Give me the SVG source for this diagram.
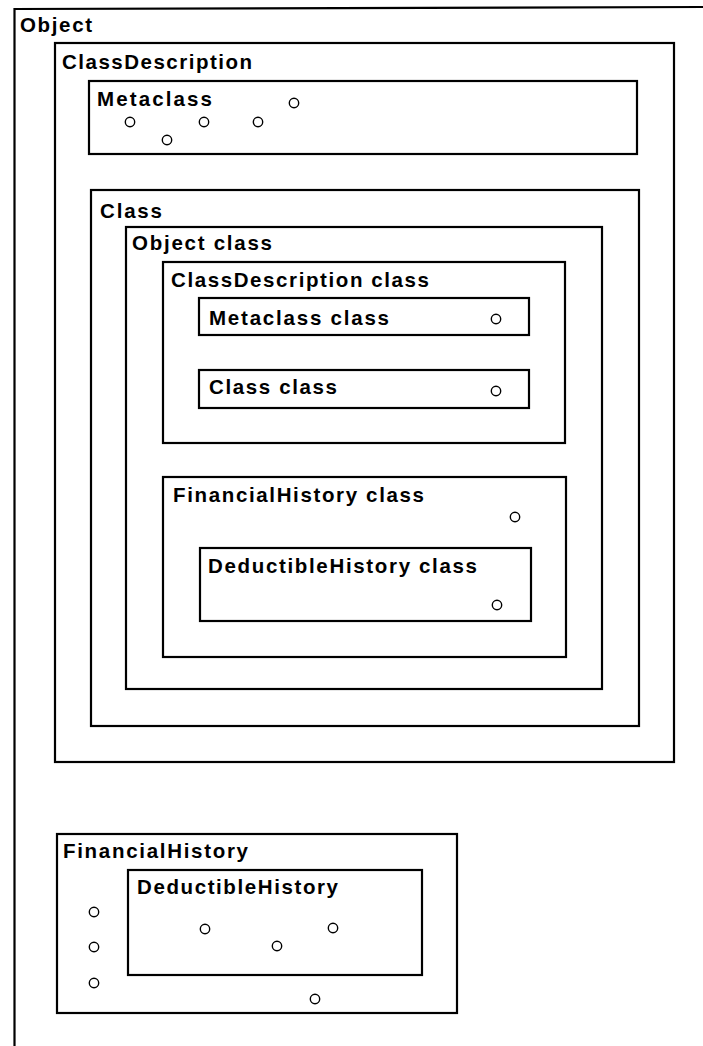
<svg xmlns="http://www.w3.org/2000/svg" width="703" height="1046" viewBox="0 0 703 1046">
<style>
.box{fill:none;stroke:#000;stroke-width:2.2}
.lbl{font-family:"Liberation Sans",Arial,Helvetica,sans-serif;font-weight:bold;font-size:20.5px;fill:#000}
.inst{fill:none;stroke:#000;stroke-width:1.4}
</style>
<rect width="703" height="1046" fill="#fff"/>
<g id="Object">
<path class="box" d="M703 7 L14.5 9 V1046" stroke-width="2.6"/>
<text class="lbl" x="20" y="32" textLength="72" lengthAdjust="spacing">Object</text>
</g>
<g id="ClassDescription">
<rect class="box" x="55" y="43" width="619" height="719"/>
<text class="lbl" x="62" y="69" textLength="190" lengthAdjust="spacing">ClassDescription</text>
</g>
<g id="Metaclass">
<rect class="box" x="89" y="81" width="548" height="73"/>
<text class="lbl" x="97" y="106" textLength="115" lengthAdjust="spacing">Metaclass</text>
<circle class="inst" cx="294" cy="103" r="4.7"/>
<circle class="inst" cx="130" cy="122" r="4.7"/>
<circle class="inst" cx="204" cy="122" r="4.7"/>
<circle class="inst" cx="258" cy="122" r="4.7"/>
<circle class="inst" cx="167" cy="140" r="4.7"/>
</g>
<g id="Class">
<rect class="box" x="91" y="190" width="548" height="536"/>
<text class="lbl" x="100" y="218" textLength="62" lengthAdjust="spacing">Class</text>
</g>
<g id="ObjectClass">
<rect class="box" x="126" y="227" width="476" height="462"/>
<text class="lbl" x="132" y="250" textLength="140" lengthAdjust="spacing">Object class</text>
</g>
<g id="ClassDescriptionClass">
<rect class="box" x="163" y="262" width="402" height="181"/>
<text class="lbl" x="171" y="287" textLength="258" lengthAdjust="spacing">ClassDescription class</text>
</g>
<g id="MetaclassClass">
<rect class="box" x="199" y="298" width="330" height="37"/>
<text class="lbl" x="209" y="325" textLength="180" lengthAdjust="spacing">Metaclass class</text>
<circle class="inst" cx="496" cy="319" r="4.7"/>
</g>
<g id="ClassClass">
<rect class="box" x="199" y="370" width="330" height="38"/>
<text class="lbl" x="209" y="394" textLength="128" lengthAdjust="spacing">Class class</text>
<circle class="inst" cx="496" cy="391" r="4.7"/>
</g>
<g id="FinancialHistoryClass">
<rect class="box" x="163" y="477" width="403" height="180"/>
<text class="lbl" x="173" y="502" textLength="251" lengthAdjust="spacing">FinancialHistory class</text>
<circle class="inst" cx="515" cy="517" r="4.7"/>
</g>
<g id="DeductibleHistoryClass">
<rect class="box" x="200" y="548" width="331" height="73"/>
<text class="lbl" x="208" y="573" textLength="269" lengthAdjust="spacing">DeductibleHistory class</text>
<circle class="inst" cx="497" cy="605" r="4.7"/>
</g>
<g id="FinancialHistory">
<rect class="box" x="57" y="834" width="400" height="179"/>
<text class="lbl" x="63" y="858" textLength="185" lengthAdjust="spacing">FinancialHistory</text>
<circle class="inst" cx="94" cy="912" r="4.7"/>
<circle class="inst" cx="94" cy="947" r="4.7"/>
<circle class="inst" cx="94" cy="983" r="4.7"/>
<circle class="inst" cx="315" cy="999" r="4.7"/>
</g>
<g id="DeductibleHistory">
<rect class="box" x="128" y="870" width="294" height="105"/>
<text class="lbl" x="137" y="894" textLength="201" lengthAdjust="spacing">DeductibleHistory</text>
<circle class="inst" cx="205" cy="929" r="4.7"/>
<circle class="inst" cx="277" cy="946" r="4.7"/>
<circle class="inst" cx="333" cy="928" r="4.7"/>
</g>
<g id="connectors"/>
</svg>
